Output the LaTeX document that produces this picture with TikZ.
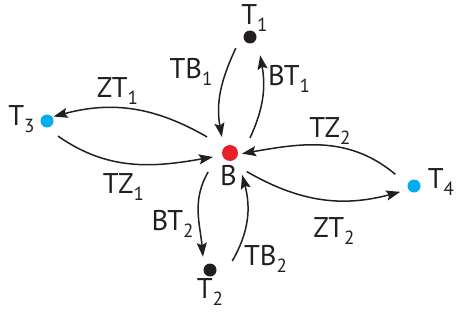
\documentclass[tikz,border=0pt]{standalone}
\usepackage{fontspec}
\setmainfont{PT Sans}
\usetikzlibrary{arrows.meta}
\definecolor{dotred}{HTML}{E8202A}
\definecolor{dotcyan}{HTML}{00AEEF}
\definecolor{dotblack}{HTML}{231F20}
\newcommand\lbsub[1]{\raisebox{-7pt}{\fontsize{19}{19}\selectfont #1}}
\tikzset{
  dotnode/.style={circle,inner sep=0pt,minimum size=13pt,fill=dotblack},
  lbl/.style={inner sep=0pt,anchor=base,font=\fontsize{28.5}{28.5}\selectfont,text=dotblack},
  arr/.style={line width=1.5pt,draw=dotblack,-{Stealth[length=14pt,width=10pt,inset=2.5pt]}}
}
\begin{document}
\begin{tikzpicture}[x=1pt,y=1pt]
\useasboundingbox (0,0) rectangle (457,-321);
\node[dotnode,fill=dotred,minimum size=16pt] (B) at (230,-153) {};
\node[dotnode] (T1) at (250,-37) {};
\node[dotnode] (T2) at (210,-270) {};
\node[dotnode,fill=dotcyan] (T3) at (47,-121) {};
\node[dotnode,fill=dotcyan] (T4) at (414,-186) {};

\node[lbl] (lT1) at (254.5,-25) {T\lbsub{1}};
\node[lbl] (lT2) at (210,-298) {T\lbsub{2}};
\node[lbl] (lT3) at (21.5,-125) {T\lbsub{3}};
\node[lbl] (lT4) at (441,-188) {T\lbsub{4}};
\node[lbl] (lB) at (228.5,-185) {B};
\node[lbl] (lTB1) at (191,-78) {TB\lbsub{1}};
\node[lbl] (lBT1) at (289,-85) {BT\lbsub{1}};
\node[lbl] (lZT1) at (117.5,-97) {ZT\lbsub{1}};
\node[lbl] (lTZ1) at (123.5,-193) {TZ\lbsub{1}};
\node[lbl] (lTZ2) at (330,-137) {TZ\lbsub{2}};
\node[lbl] (lZT2) at (334,-237) {ZT\lbsub{2}};
\node[lbl] (lBT2) at (172.5,-230) {BT\lbsub{2}};
\node[lbl] (lTB2) at (265.5,-265) {TB\lbsub{2}};

\draw[arr] ([shift={(218:18)}]T1.center) to[out=245,in=100] ([shift={(117:18)}]B.center);
\draw[arr] ([shift={(37:25)}]B.center) to[out=65,in=280] ([shift={(299:21)}]T1.center);
\draw[arr] ([shift={(145:28)}]B.center) to[out=150,in=15] ([shift={(34:8)}]T3.center);
\draw[arr] ([shift={(306:18.6)}]T3.center) to[out=-35,in=190] ([shift={(193:17.5)}]B.center);
\draw[arr] ([shift={(148:22)}]T4.center) to[out=140,in=10] ([shift={(-3:12)}]B.center);
\draw[arr] ([shift={(312:25)}]B.center) to[out=-30,in=195] ([shift={(203:15)}]T4.center);
\draw[arr] ([shift={(221:29)}]B.center) to[out=240,in=95] ([shift={(118:15)}]T2.center);
\draw[arr] ([shift={(22:24)}]T2.center) to[out=60,in=285] ([shift={(299:25)}]B.center);
\end{tikzpicture}
\end{document}
